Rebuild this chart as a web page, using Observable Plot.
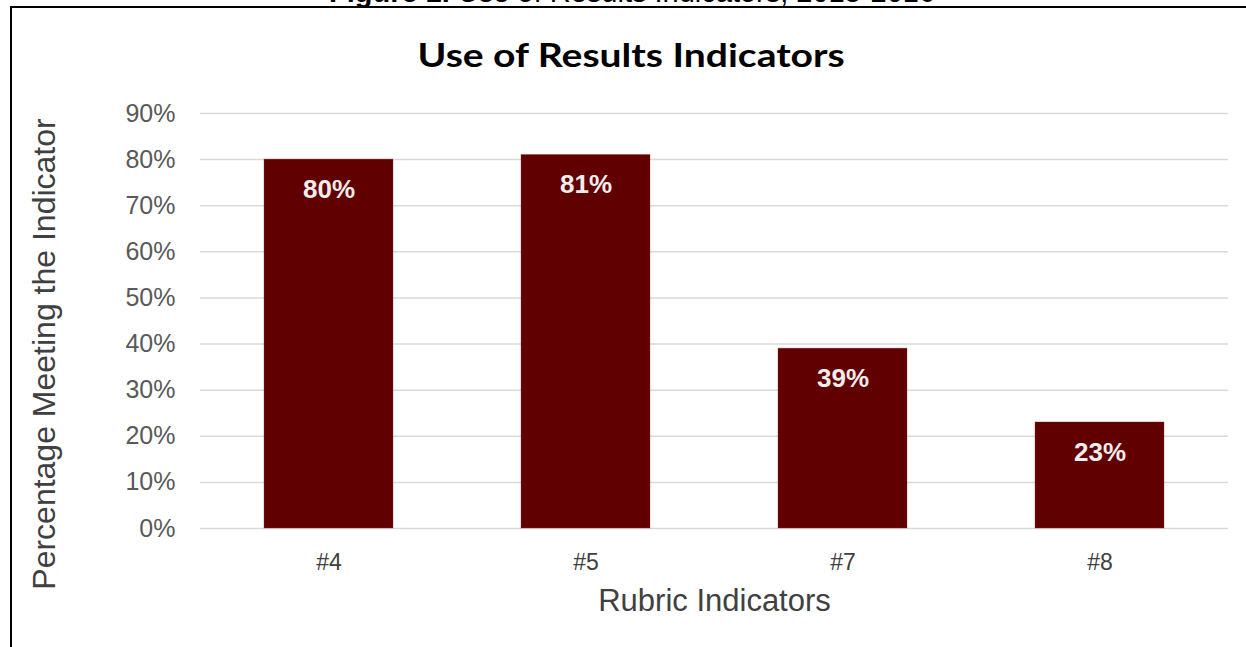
<!DOCTYPE html>
<html>
<head>
<meta charset="utf-8">
<script src="https://cdn.jsdelivr.net/npm/d3@7"></script>
<script src="https://cdn.jsdelivr.net/npm/@observablehq/plot@0.6"></script>
<style>
  html, body { margin: 0; padding: 0; background: #fff; overflow: hidden; }
  #wrap { position: relative; width: 1246px; height: 647px; overflow: hidden; }
  #caption { position: absolute; left: 9px; width: 1246px; top: -22px; text-align: center;
    font-family: "Liberation Sans", Arial, sans-serif; font-size: 29px; line-height: 29px; color: #000; }
  #frame { position: absolute; left: 10px; top: 6px; width: 1300px; height: 700px;
    border-top: 2px solid #000; border-left: 2px solid #000; }
  #title { position: absolute; left: 8px; width: 1246px; top: 36px; text-align: center; }
  #title span { display: inline-block; transform: scaleX(1.22); transform-origin: center;
    font-family: Lato, "Open Sans", sans-serif; font-weight: 700; font-size: 32px; line-height: 38px; color: #000; }
  #chart { position: absolute; left: 0; top: 0; }
</style>
</head>
<body>
<div id="wrap">
  <div id="caption"><b>Figure 1.</b> Use of Results Indicators, 2015-2016</div>
  <div id="frame"></div>
  <div id="chart"></div>
  <div id="title"><span>Use of Results Indicators</span></div>
</div>
<script>
const indicators = ["#4", "#5", "#7", "#8"];
const shares = [0.80, 0.81, 0.39, 0.23];
const yTicks = [0, 0.1, 0.2, 0.3, 0.4, 0.5, 0.6, 0.7, 0.8, 0.9];
const xTitle = "Rubric Indicators";
const yTitle = "Percentage Meeting the Indicator";

const data = indicators.map((k, i) => ({indicator: k, share: shares[i]}));
const pct = d => Math.round(d * 100) + "%";

const chart = Plot.plot({
  width: 1246,
  height: 647,
  marginTop: 113,
  marginBottom: 119,
  marginLeft: 200,
  marginRight: 18,
  style: {fontFamily: "'Liberation Sans', Arial, sans-serif", background: "transparent"},
  x: {domain: indicators, paddingInner: 0.5, paddingOuter: 0.25, axis: null},
  y: {domain: [0, 0.9], axis: null},
  marks: [
    Plot.gridY(yTicks, {stroke: "#d9d9d9", strokeOpacity: 1, strokeWidth: 1.5}),
    Plot.barY(data, {x: "indicator", y: "share", fill: "#600000", stroke: "#8a3030", strokeOpacity: 0.35, strokeWidth: 1}),
    Plot.axisY(yTicks, {tickFormat: pct, tickSize: 0, tickPadding: 25, fontSize: 25, fill: "#595959", label: null}),
    Plot.axisX({tickSize: 0, tickPadding: 25, fontSize: 23, fill: "#404040", label: null}),
    Plot.text(data, {x: "indicator", y: "share", text: d => pct(d.share), dy: 30, fill: "#f2eded",
      fontWeight: "bold", fontSize: 26, letterSpacing: -1}),
    Plot.text([xTitle], {text: d => d, frameAnchor: "bottom", dy: 82, fontSize: 31, fill: "#404040"}),
    Plot.text([yTitle], {text: d => d, frameAnchor: "left", textAnchor: "middle", rotate: -90, dx: -156, dy: 33, fontSize: 32, fill: "#404040"})
  ]
});
document.getElementById("chart").appendChild(chart);
</script>
</body>
</html>
